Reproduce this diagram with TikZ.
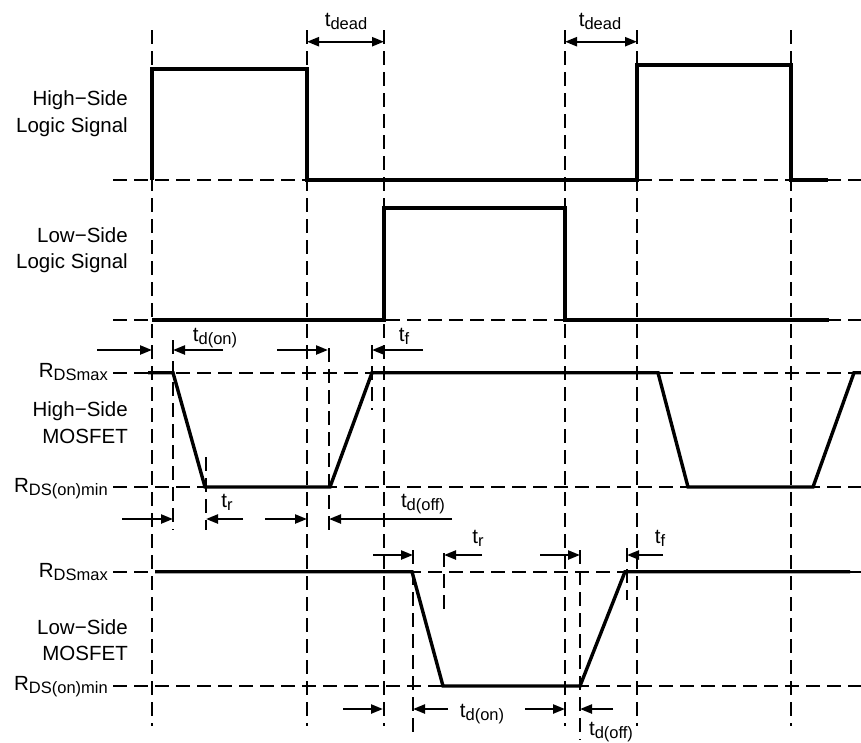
\documentclass[tikz,border=0pt]{standalone}
\usepackage{fontspec}
\setmainfont{Liberation Sans}
\usetikzlibrary{arrows.meta}
\newcommand\sbs[1]{\raisebox{-0.3ex}{\fontsize{16.5}{16.5}\selectfont #1}}
\begin{document}
\begin{tikzpicture}[x=1pt,y=-1pt,
  font=\fontsize{20.5}{26.5}\selectfont,
  gridline/.style={line width=2.2pt, dash pattern=on 14pt off 7pt},
  wave/.style={line width=3.4pt, line join=miter},
  dimarrow/.style={line width=2.3pt, -{Triangle[length=12pt,width=9pt]}},
  dimboth/.style={line width=2.3pt, {Triangle[length=12pt,width=9pt]}-{Triangle[length=12pt,width=9pt]}},
  lbl/.style={inner sep=0pt, anchor=east, align=right},
  rlbl/.style={inner sep=0pt, anchor=base east},
  tlbl/.style={inner sep=0pt, anchor=base}]
\useasboundingbox (0,0) rectangle (861,742);
% vertical grid
\foreach \x in {152,307,384,565,637,791}
  \draw[gridline] (\x,30) -- (\x,726);
% horizontal reference lines
\foreach \y in {180,320,372.7,487,571.7,686}
  \draw[gridline] (113,\y) -- (861,\y);
% extra timing markers
\draw[gridline] (173,340) -- (173,530);
\draw[gridline] (329,348) -- (329,530);
\draw[gridline] (372,345) -- (372,410);
\draw[gridline] (206,457) -- (206,530);
\draw[gridline] (413,550) -- (413,735);
\draw[gridline] (444,553) -- (444,610);
\draw[gridline] (580,550) -- (580,740);
\draw[gridline] (627,548) -- (627,600);
% waveforms
\draw[wave] (152,180) -- (152,69) -- (307,69) -- (307,180) -- (637,180) -- (637,65) -- (791,65) -- (791,180) -- (828,180);
\draw[wave] (152,320) -- (384,320) -- (384,208) -- (565,208) -- (565,320) -- (829,320);
\draw[wave] (148,372.7) -- (173,372.7) -- (205,487) -- (330,487) -- (372,372.7) -- (658,372.7) -- (688,487) -- (813,487) -- (854,372.7) -- (861,372.7);
\draw[wave] (155,571.7) -- (412,571.7) -- (443,686) -- (580,686) -- (625,571.7) -- (850,571.7);
% dead time arrows
\draw[dimboth] (307,41.7) -- (384,41.7);
\draw[dimboth] (565,41.7) -- (637,41.7);
\node[tlbl] (td1) at (346,26) {t\sbs{dead}};
\node[tlbl] (td2) at (600,26) {t\sbs{dead}};
% high-side mosfet arrows
\draw[dimarrow] (97,350) -- (152,350);
\draw[dimarrow] (223,350) -- (173,350);
\draw[dimarrow] (277,350) -- (328,350);
\draw[dimarrow] (423,350) -- (372,350);
\draw[dimarrow] (122,519) -- (173,519);
\draw[dimarrow] (243,519) -- (206,519);
\draw[dimarrow] (265,519) -- (307,519);
\draw[dimarrow] (452,519) -- (329,519);
\node[tlbl] (hdon) at (215,341) {t\sbs{d(on)}};
\node[tlbl] (hf) at (404,341) {t\sbs{f}};
\node[tlbl] (hr) at (227,507) {t\sbs{r}};
\node[tlbl] (hdoff) at (423,507) {t\sbs{d(off)}};
% low-side mosfet arrows
\draw[dimarrow] (373,555) -- (413,555);
\draw[dimarrow] (482,555) -- (444,555);
\draw[dimarrow] (540,555) -- (580,555);
\draw[dimarrow] (663,555) -- (627,555);
\draw[dimarrow] (343,709) -- (383,709);
\draw[dimarrow] (448,709) -- (413,709);
\draw[dimarrow] (525,709) -- (565,709);
\draw[dimarrow] (613,709) -- (580,709);
\node[tlbl] (lr) at (478,543) {t\sbs{r}};
\node[tlbl] (lf) at (660,543) {t\sbs{f}};
\node[tlbl] (ldon) at (482,717) {t\sbs{d(on)}};
\node[tlbl] (ldoff) at (611,735) {t\sbs{d(off)}};
% left labels
\node[lbl] (hsl) at (128,113.5) {High−Side\\Logic Signal};
\node[lbl] (lsl) at (128,250) {Low−Side\\Logic Signal};
\node[lbl] (hsm) at (128,422.5) {High−Side\\MOSFET};
\node[lbl] (lsm) at (128,640) {Low−Side\\MOSFET};
\node[rlbl] (r1) at (108,377) {R\sbs{DSmax}};
\node[rlbl] (r2) at (108,492) {R\sbs{DS(on)min}};
\node[rlbl] (r3) at (108,577) {R\sbs{DSmax}};
\node[rlbl] (r4) at (108,690) {R\sbs{DS(on)min}};
\end{tikzpicture}
\end{document}
